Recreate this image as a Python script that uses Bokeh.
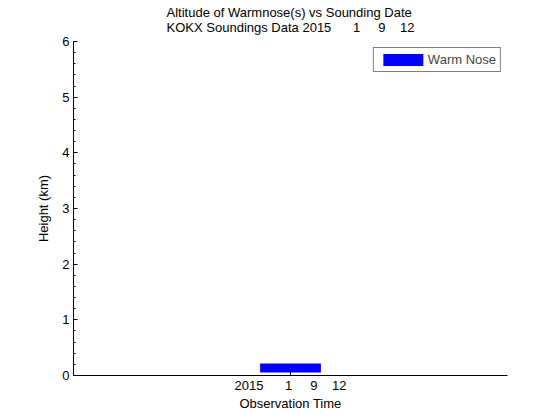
from bokeh.plotting import figure
from bokeh.models import Range1d, FixedTicker, SingleIntervalTicker, Title, Legend, LegendItem
from bokeh.embed import file_html
from bokeh.resources import INLINE

NB = "\u00a0"
# data
obs_x = [1.0]
obs_label = "2015" + NB * 6 + "1" + NB * 5 + "9" + NB * 4 + "12"
warm_base = [0.055]
warm_top = [0.215]

FONT = "Liberation Sans"
FS = "13px"

p = figure(frame_width=434, frame_height=334, output_backend="svg", toolbar_location=None,
           x_range=Range1d(0, 2), y_range=Range1d(0, 6), title=None,
           min_border_left=73, min_border_right=45, min_border_top=40, min_border_bottom=38)
p.outline_line_color = None
p.xgrid.visible = False
p.ygrid.visible = False
p.background_fill_color = "white"
p.border_fill_color = "white"

r = p.vbar(x=obs_x, width=0.28, bottom=warm_base, top=warm_top,
           fill_color="#0000ff", line_color=None)

p.xaxis.ticker = FixedTicker(ticks=obs_x)
p.xaxis.major_label_overrides = {1: obs_label, 1.0: obs_label}
p.yaxis.ticker = SingleIntervalTicker(interval=1, num_minor_ticks=5)

for ax in (p.xaxis, p.yaxis):
    ax.axis_line_color = "black"
    ax.axis_line_width = 1
    ax.major_tick_in = 4
    ax.major_tick_out = 0
    ax.minor_tick_in = 2
    ax.minor_tick_out = 0
    ax.major_tick_line_color = "black"
    ax.minor_tick_line_color = "black"
    ax.major_label_text_font = FONT
    ax.major_label_text_font_size = FS
    ax.major_label_text_color = "black"
    ax.axis_label_text_font = FONT
    ax.axis_label_text_font_size = FS
    ax.axis_label_text_font_style = "normal"
    ax.axis_label_text_color = "black"

p.xaxis.minor_tick_line_color = None
p.xaxis.major_label_standoff = 2
p.xaxis.axis_label = "Observation Time"
p.xaxis.axis_label_standoff = 0
p.yaxis.major_label_standoff = 4
p.yaxis.axis_label = "Height (km)"
p.yaxis.axis_label_standoff = 8

title1 = "Altitude of Warmnose(s) vs Sounding Date"
title2 = "KOKX Soundings Data " + obs_label
p.add_layout(Title(text=title1 + "\n" + title2, align="center", offset=-2, standoff=8,
                   vertical_align="top", text_line_height=1.05,
                   text_font=FONT, text_font_size=FS, text_font_style="normal",
                   text_color="black"), "above")

legend = Legend(items=[LegendItem(label="Warm Nose", renderers=[r])], location="top_right")
legend.margin = 6
legend.padding = 4
legend.spacing = 0
legend.label_standoff = 0
legend.glyph_width = 50
legend.glyph_height = 15
legend.label_height = 12
legend.label_text_font = FONT
legend.label_text_font_size = FS
legend.border_line_color = "black"
legend.border_line_width = 1
legend.background_fill_alpha = 1
p.add_layout(legend)

open("out.html", "w").write(file_html(p, INLINE))
